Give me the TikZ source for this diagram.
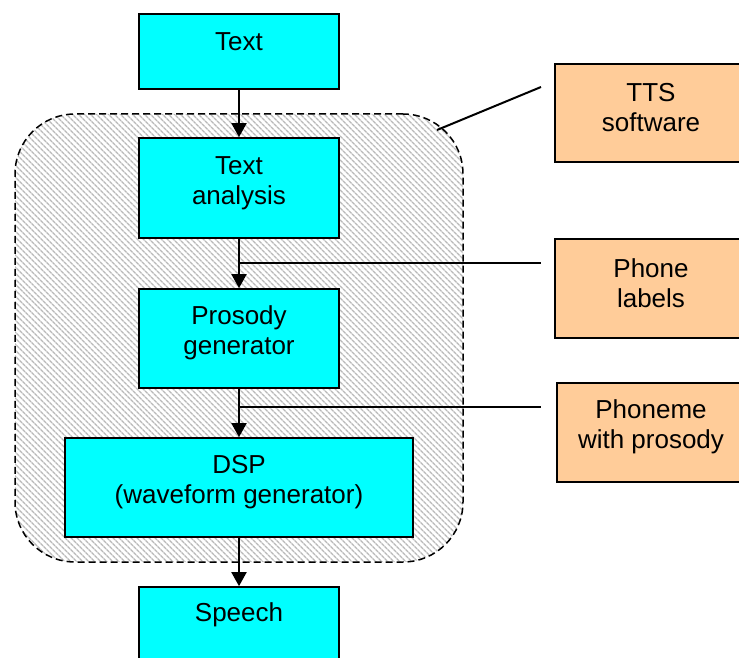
\documentclass[tikz,border=0pt]{standalone}
\usepackage{fontspec}
\setmainfont{Liberation Sans}
\usetikzlibrary{arrows.meta,patterns.meta}
\definecolor{boxcyan}{RGB}{0,255,255}
\definecolor{boxorange}{RGB}{255,204,153}
\tikzset{
  cyanbox/.style={draw=black, line width=1.7pt, fill=boxcyan, rectangle, inner sep=0pt},
  orangebox/.style={draw=black, line width=1.7pt, fill=boxorange, rectangle, inner sep=0pt},
  lbl/.style={font=\fontsize{26}{30}\selectfont, align=center, inner sep=0pt},
  flow/.style={line width=2pt, -{Triangle[length=14pt,width=15pt]}},
  conn/.style={line width=2pt},
}
\begin{document}
\begin{tikzpicture}[x=1pt,y=-1pt]
\clip (0,0) rectangle (739,658);
\fill[white] (0,0) rectangle (739,658);
% group
\node[draw=black, dash pattern=on 7pt off 4pt, line width=1.5pt, rounded corners=60pt, minimum width=448pt, minimum height=448pt, inner sep=0pt,
  pattern={Lines[angle=-45,distance=4pt,line width=1.5pt]}, pattern color=gray!55] (grp) at (239,338) {};
% main boxes
\node[cyanbox, minimum width=200pt, minimum height=75pt] (text) at (239,51.5) {};
\node[lbl] (textl) at (239,42) {Text};
\node[cyanbox, minimum width=200pt, minimum height=100pt] (ana) at (239,188) {};
\node[lbl] (anal) at (239,183) {Text\\analysis};
\node[cyanbox, minimum width=200pt, minimum height=99pt] (pros) at (239,338.5) {};
\node[lbl] (prosl) at (239,333) {Prosody\\generator};
\node[cyanbox, minimum width=348pt, minimum height=99pt] (dsp) at (239,487.5) {};
\node[lbl] (dspl) at (239,482) {DSP\\(waveform generator)};
\node[cyanbox, minimum width=200pt, minimum height=100pt] (sp) at (239,637) {};
\node[lbl] (spl) at (239,615) {Speech};
% right boxes
\node[orangebox, minimum width=192pt, minimum height=98pt] (tts) at (651,113) {};
\node[lbl] (ttsl) at (651,108) {TTS\\software};
\node[orangebox, minimum width=192pt, minimum height=99pt] (phl) at (651,288.5) {};
\node[lbl] (phll) at (651,283) {Phone\\labels};
\node[orangebox, minimum width=188pt, minimum height=99pt] (php) at (651,432.5) {};
\node[lbl] (phpl) at (651,427) {Phoneme\\with prosody};
% connectors
\coordinate (c1) at (239,263);
\coordinate (c2) at (239,407);
\coordinate (g1) at (437,130);
\coordinate (e1) at (541,263);
\coordinate (e2) at (541,407);
\coordinate (e3) at (541,87);
\draw[flow] (text.south) -- (ana.north);
\draw[flow] (ana.south) -- (pros.north);
\draw[flow] (pros.south) -- (dsp.north);
\draw[flow] (dsp.south) -- (sp.north);
\draw[conn] (c1) -- (e1);
\draw[conn] (c2) -- (e2);
\draw[conn] (g1) -- (e3);
\end{tikzpicture}
\end{document}
